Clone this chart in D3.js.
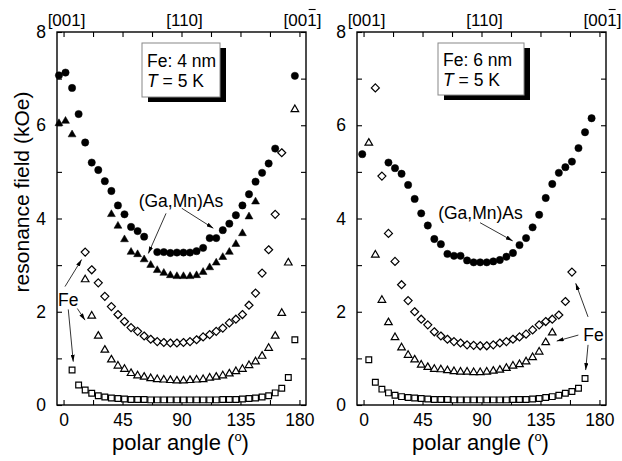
<!DOCTYPE html>
<html>
<head>
<meta charset="utf-8">
<script src="https://cdn.jsdelivr.net/npm/d3@7"></script>
<style>
  body { margin: 0; background: #fff; }
  svg { display: block; font-family: "Liberation Sans", Arial, sans-serif; }
</style>
</head>
<body>
<svg id="chart" width="622" height="461"></svg>
<script>
// polar angles (deg) of the measurement points, Fe 4 nm panel
const anglesL = [-3.5, 1.5, 6.5, 11.5, 16.5, 21.5, 26.5, 31.5, 36.5, 41.5, 46.5, 51.5, 56.5,
  61.5, 66.5, 71.5, 76.5, 81.5, 86.5, 91.5, 96.5, 101.5, 106.5, 111.5, 116.5, 121.5, 126.5,
  131.5, 136.5, 141.5, 146.5, 151.5, 156.5, 161.5, 166.5, 171.5, 176.5];

// Fe 6 nm panel
const anglesR = [-1, 4, 9, 14, 19, 24, 29, 34, 39, 44, 49, 54, 59, 64, 69, 74, 79, 84, 89, 94,
  99, 104, 109, 114, 119, 124, 129, 134, 139, 144, 149, 154, 159, 164, 169, 174];

// resonance fields (kOe), null = no point
const fe4Circles = [7.07, 7.13, 6.80, 6.24, 5.63, 5.20, 5.04, 4.80, 4.59, 4.28, 4.09, 3.82, 3.73,
  3.61, null, 3.28, 3.28, 3.26, 3.27, 3.27, 3.27, 3.30, 3.37, 3.58, 3.58, 3.75, 3.89, 4.07,
  4.28, 4.52, 4.79, 4.98, 5.18, 5.50, null, null, 7.06];
const fe4Triangles = [6.04, 6.09, 5.80, null, null, null, null, null, 4.09, 3.84, 3.55, 3.28,
  3.23, 3.12, 3.00, 2.89, 2.83, 2.78, 2.76, 2.76, 2.76, 2.78, 2.85, 2.95, 3.05, 3.17, 3.28,
  3.45, 3.68, 4.04, 4.36, null, null, null, null, null, null];
const fe4Diamonds = [null, null, null, null, 3.28, 2.90, 2.62, 2.33, 2.11, 1.94, 1.79, 1.66,
  1.58, 1.48, 1.41, 1.36, 1.34, 1.33, 1.33, 1.34, 1.36, 1.40, 1.46, 1.51, 1.58, 1.65, 1.76,
  1.84, 1.94, 2.14, 2.40, 2.83, 3.33, 4.09, 5.41, null, null];
const fe4OpenTriangles = [null, null, null, null, 2.69, 1.91, 1.48, 1.18, 0.97, 0.84, 0.77,
  0.68, 0.63, 0.60, 0.57, 0.55, 0.54, 0.53, 0.52, 0.52, 0.53, 0.54, 0.55, 0.58, 0.60, 0.63,
  0.67, 0.72, 0.77, 0.85, 0.93, 1.05, 1.22, 1.48, 1.97, 3.05, 6.34];
const fe4Squares = [null, null, 0.75, 0.43, 0.32, 0.25, 0.20, 0.17, 0.15, 0.14, 0.13, 0.12,
  0.12, 0.12, 0.11, 0.11, 0.11, 0.11, 0.11, 0.11, 0.11, 0.11, 0.11, 0.11, 0.11, 0.12, 0.12,
  0.12, 0.13, 0.14, 0.15, 0.17, 0.20, 0.26, 0.36, 0.59, 1.40];

const fe6Circles = [5.38, null, null, null, 5.20, 5.08, 4.96, 4.72, 4.42, 4.11, 3.85, 3.56,
  3.45, 3.24, 3.20, 3.20, 3.10, 3.06, 3.06, 3.06, 3.08, 3.11, 3.18, 3.26, 3.43, 3.58, 3.81,
  4.08, 4.44, 4.74, 4.98, 5.10, 5.22, 5.51, 5.85, 6.15];
const fe6Diamonds = [null, null, 6.80, 4.91, 3.68, 3.08, 2.58, 2.24, 2.00, 1.84, 1.72, 1.57,
  1.48, 1.41, 1.36, 1.33, 1.29, 1.28, 1.27, 1.27, 1.29, 1.33, 1.36, 1.41, 1.46, 1.52, 1.61,
  1.72, 1.79, 1.84, 1.93, 2.22, 2.85, null, null, null];
const fe6OpenTriangles = [null, 5.62, 3.22, 2.25, 1.77, 1.45, 1.23, 1.07, 0.97, 0.86, 0.81,
  0.77, 0.76, 0.74, 0.72, 0.71, 0.71, 0.70, 0.70, 0.71, 0.73, 0.75, 0.79, 0.84, 0.87, 0.93,
  1.02, 1.14, 1.34, 1.55, null, null, null, null, null, null];
const fe6Squares = [null, 0.97, 0.49, 0.34, 0.26, 0.21, 0.18, 0.16, 0.15, 0.14, 0.13, 0.12,
  0.12, 0.12, 0.11, 0.11, 0.11, 0.11, 0.11, 0.11, 0.11, 0.11, 0.11, 0.12, 0.12, 0.12, 0.13,
  0.14, 0.16, 0.18, 0.21, 0.25, 0.29, 0.36, 0.57, null];

const xTicks = [0, 22.5, 45, 67.5, 90, 112.5, 135, 157.5, 180];
const yTicks = [0, 1, 2, 3, 4, 5, 6, 7, 8];
const topLabelAngles = [0, 90, 180];
const topLabels = ["[001]", "[110]", "[001]"];

// annotation arrows: [angle from, field from, angle to, field to]
const arrowsL = [[78.2, 4.11, 64.7, 3.25], [90.2, 4.22, 114.3, 3.79], [1.1, 2.54, 13.8, 3.12],
  [10.5, 2.07, 16.4, 1.82], [3.6, 2.05, 7.4, 0.93]];
const arrowsR = [[88.9, 3.91, 113.8, 3.52], [171.3, 1.89, 161.9, 2.61],
  [163.9, 1.50, 147.4, 1.37], [171.3, 1.29, 169.5, 0.75]];

const plotTop = 32;
const plotBottom = 405;
const plotWidth = 249;

const diamond = {
  draw(context, size) {
    const r = Math.sqrt(size / 2);
    context.moveTo(0, -r);
    context.lineTo(r, 0);
    context.lineTo(0, r);
    context.lineTo(-r, 0);
    context.closePath();
  }
};

const panels = [
  {
    left: 57,
    angles: anglesL,
    series: [
      { values: fe4Squares, type: d3.symbolSquare, size: 33, filled: false },
      { values: fe4OpenTriangles, type: d3.symbolTriangle, size: 25, filled: false },
      { values: fe4Diamonds, type: diamond, size: 32, filled: false },
      { values: fe4Triangles, type: d3.symbolTriangle, size: 27, filled: true },
      { values: fe4Circles, type: d3.symbolCircle, size: 42, filled: true }
    ],
    arrows: arrowsL,
    gma: { angle: 89.6, field: 4.24 },
    fe: { angle: -4.2, field: 2.12 },
    box: { x: 142, y: 43, w: 78, h: 54, line1: "Fe: 4 nm", ty1: 66.5, ty2: 87 }
  },
  {
    left: 357,
    angles: anglesR,
    series: [
      { values: fe6Squares, type: d3.symbolSquare, size: 33, filled: false },
      { values: fe6OpenTriangles, type: d3.symbolTriangle, size: 25, filled: false },
      { values: fe6Diamonds, type: diamond, size: 32, filled: false },
      { values: fe6Circles, type: d3.symbolCircle, size: 42, filled: true }
    ],
    arrows: arrowsR,
    gma: { angle: 89.2, field: 3.99 },
    fe: { angle: 167.7, field: 1.37 },
    box: { x: 438, y: 43, w: 86, h: 52, line1: "Fe: 6 nm", ty1: 65.5, ty2: 86 }
  }
];

const svg = d3.select("#chart");

svg.append("defs")
  .append("marker")
  .attr("id", "arrowhead")
  .attr("viewBox", "0 0 10 6")
  .attr("refX", 10)
  .attr("refY", 3)
  .attr("markerWidth", 7)
  .attr("markerHeight", 4.2)
  .attr("markerUnits", "userSpaceOnUse")
  .attr("orient", "auto")
  .append("path")
  .attr("d", "M0,0L10,3L0,6Z")
  .attr("fill", "#000");

panels.forEach(drawPanel);

// y axis title
svg.append("text")
  .attr("transform", "translate(29,192) rotate(-90)")
  .attr("text-anchor", "middle")
  .attr("font-size", 21)
  .text("resonance field (kOe)");

function drawPanel(panel) {
  const x = d3.scaleLinear().domain([-5, 185]).range([panel.left, panel.left + plotWidth]);
  const y = d3.scaleLinear().domain([0, 8]).range([plotBottom, plotTop]);
  const g = svg.append("g");

  const bottomAxis = g.append("g")
    .attr("transform", `translate(0,${plotBottom})`)
    .call(d3.axisBottom(x).tickValues(xTicks).tickSize(-5).tickPadding(9)
      .tickFormat(d => (d % 45 === 0 ? d : "")));

  const topAxis = g.append("g")
    .attr("transform", `translate(0,${plotTop})`)
    .call(d3.axisTop(x).tickValues(xTicks).tickSize(-5).tickPadding(6)
      .tickFormat(d => {
        const i = topLabelAngles.indexOf(d);
        return i >= 0 ? topLabels[i] : "";
      }));

  const leftAxis = g.append("g")
    .attr("transform", `translate(${panel.left},0)`)
    .call(d3.axisLeft(y).tickValues(yTicks).tickSize(-5).tickPadding(11)
      .tickFormat(d => (d % 2 === 0 ? d : "")));

  const rightAxis = g.append("g")
    .attr("transform", `translate(${panel.left + plotWidth},0)`)
    .call(d3.axisRight(y).tickValues(yTicks).tickSize(-5).tickFormat(""));

  [bottomAxis, topAxis, leftAxis, rightAxis].forEach(axis => {
    axis.select(".domain").remove();
    axis.selectAll("line").attr("stroke", "#000").attr("stroke-width", 1.1);
    axis.selectAll("text")
      .attr("fill", "#000")
      .attr("font-size", 17.5)
      .attr("font-family", "Liberation Sans, Arial, sans-serif");
  });

  topAxis.selectAll("text").attr("font-size", 17).attr("dx", 2.5);

  // overbar on the last index of [00-1]
  topAxis.selectAll(".tick")
    .filter(d => d === 180)
    .each(function() {
      const tick = d3.select(this);
      const label = tick.select("text").node();
      const ext = label.getExtentOfChar(3);
      tick.append("line")
        .attr("x1", ext.x + 1.5)
        .attr("x2", ext.x + ext.width - 1)
        .attr("y1", -22.5)
        .attr("y2", -22.5)
        .attr("stroke", "#000")
        .attr("stroke-width", 1.1);
    });

  g.append("rect")
    .attr("x", panel.left)
    .attr("y", plotTop)
    .attr("width", plotWidth)
    .attr("height", plotBottom - plotTop)
    .attr("fill", "none")
    .attr("stroke", "#000")
    .attr("stroke-width", 1.4);

  // data points
  panel.series.forEach(s => {
    const points = panel.angles
      .map((angle, i) => ({ angle, value: s.values[i] }))
      .filter(p => p.value !== null);

    g.append("g")
      .selectAll("path")
      .data(points)
      .join("path")
      .attr("transform", p => `translate(${x(p.angle)},${y(p.value)})`)
      .attr("d", d3.symbol().type(s.type).size(s.size))
      .attr("fill", s.filled ? "#000" : "#fff")
      .attr("stroke", "#000")
      .attr("stroke-width", s.filled ? 0.5 : 1.2);
  });

  // annotations
  g.append("g")
    .selectAll("line")
    .data(panel.arrows)
    .join("line")
    .attr("x1", d => x(d[0]))
    .attr("y1", d => y(d[1]))
    .attr("x2", d => x(d[2]))
    .attr("y2", d => y(d[3]))
    .attr("stroke", "#000")
    .attr("stroke-width", 0.8)
    .attr("marker-end", "url(#arrowhead)");

  g.append("text")
    .attr("x", x(panel.gma.angle))
    .attr("y", y(panel.gma.field))
    .attr("text-anchor", "middle")
    .attr("font-size", 17.5)
    .text("(Ga,Mn)As");

  g.append("text")
    .attr("x", x(panel.fe.angle))
    .attr("y", y(panel.fe.field))
    .attr("font-size", 17.5)
    .text("Fe");

  // sample box with drop shadow
  const b = panel.box;
  g.append("rect")
    .attr("x", b.x + 6)
    .attr("y", b.y + 5)
    .attr("width", b.w)
    .attr("height", b.h)
    .attr("fill", "#000");
  g.append("rect")
    .attr("x", b.x)
    .attr("y", b.y)
    .attr("width", b.w)
    .attr("height", b.h)
    .attr("fill", "#fff")
    .attr("stroke", "#888")
    .attr("stroke-width", 1);
  g.append("text")
    .attr("x", b.x + 5)
    .attr("y", b.ty1)
    .attr("font-size", 17.5)
    .text(b.line1);
  const tLine = g.append("text")
    .attr("x", b.x + 5)
    .attr("y", b.ty2)
    .attr("font-size", 17.5);
  tLine.append("tspan").attr("font-style", "italic").text("T");
  tLine.append("tspan").text(" = 5 K");

  // x axis title
  const title = g.append("text")
    .attr("x", panel.left + plotWidth / 2 - 1)
    .attr("y", 450)
    .attr("text-anchor", "middle")
    .attr("font-size", 22);
  title.append("tspan").text("polar angle (");
  title.append("tspan").attr("font-size", 13).attr("dy", -9).text("o");
  title.append("tspan").attr("dy", 9).text(")");
}
</script>
</body>
</html>
